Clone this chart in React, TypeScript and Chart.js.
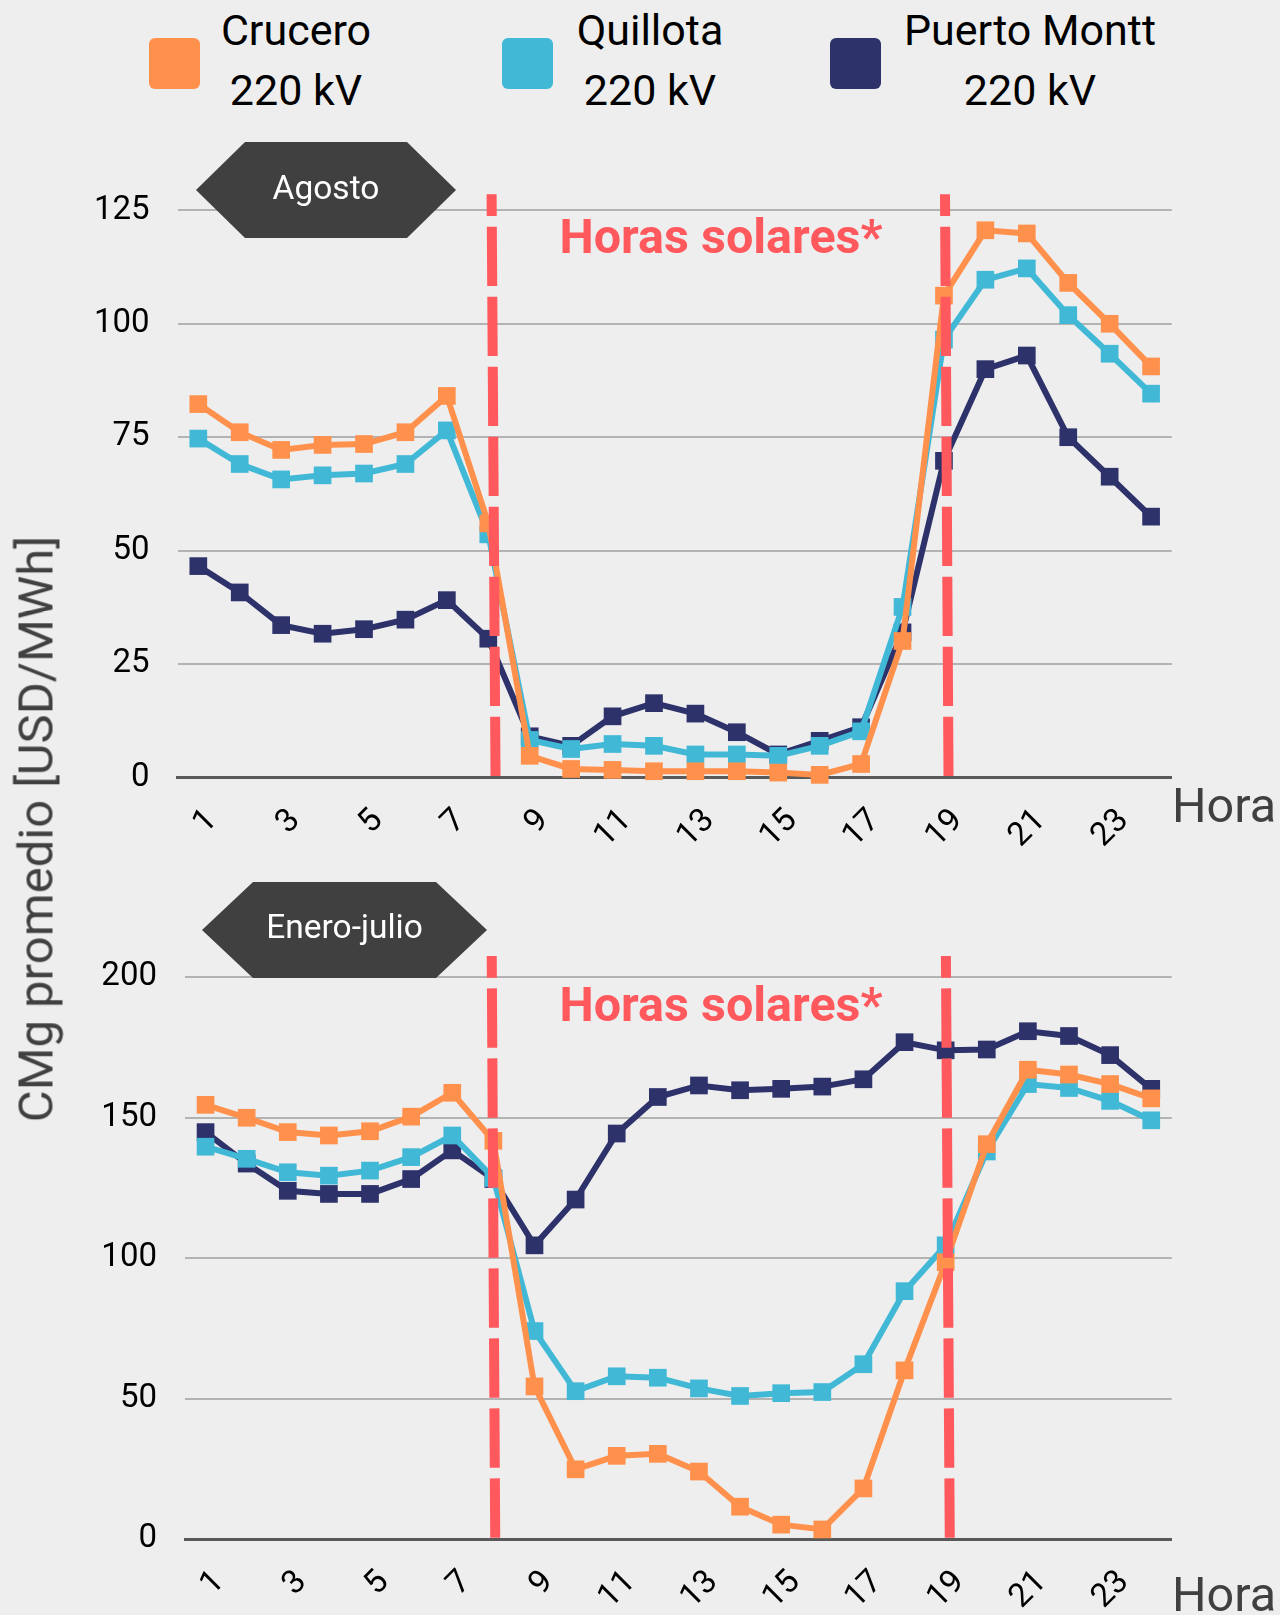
import React, { useEffect, useRef } from "react";
import { Chart, registerables } from "chart.js";

Chart.register(...registerables);
Chart.defaults.font.family = "Roboto";

// ---------- DATA ----------
const hours = ["1", "2", "3", "4", "5", "6", "7", "8", "9", "10", "11", "12", "13", "14", "15", "16", "17", "18", "19", "20", "21", "22", "23", "24"];

// Agosto
const agostoCrucero = [82.3, 76.1, 72.2, 73.3, 73.5, 76.1, 84.1, 56.0, 4.8, 1.9, 1.7, 1.4, 1.4, 1.4, 1.1, 0.6, 3.0, 30.1, 106.2, 120.6, 119.9, 109.0, 100.0, 90.6];
const agostoQuillota = [74.7, 69.1, 65.7, 66.6, 67.0, 69.1, 76.5, 53.6, 8.3, 6.3, 7.4, 7.0, 5.1, 5.1, 4.8, 7.0, 10.2, 37.6, 96.5, 109.7, 112.2, 101.9, 93.4, 84.6];
const agostoPuertoMontt = [46.6, 40.8, 33.6, 31.7, 32.7, 34.8, 39.1, 30.6, 9.1, 7.0, 13.5, 16.4, 14.1, 10.0, 5.1, 8.1, 11.1, 32.0, 69.8, 90.0, 93.0, 75.0, 66.3, 57.5];

// Enero-julio
const eneJulCrucero = [154.5, 149.9, 144.8, 143.6, 145.1, 150.3, 158.8, 141.7, 54.3, 24.8, 29.6, 30.3, 24.0, 11.5, 5.1, 3.4, 18.0, 60.0, 98.5, 140.5, 167.0, 165.3, 161.9, 156.8];
const eneJulQuillota = [139.6, 135.3, 130.5, 129.3, 131.1, 135.9, 143.6, 128.5, 74.0, 52.6, 57.9, 57.4, 53.6, 50.9, 51.9, 52.3, 62.2, 88.2, 104.5, 137.9, 161.9, 160.5, 155.9, 149.0];
const eneJulPuertoMontt = [144.8, 133.6, 123.9, 122.8, 122.8, 128.1, 138.3, 128.1, 104.5, 120.8, 144.3, 157.3, 161.4, 159.7, 160.2, 161.0, 163.6, 176.8, 173.9, 174.2, 180.7, 179.0, 172.2, 160.2];

const seriesNames = ["Crucero", "Quillota", "Puerto Montt"];
const seriesSub = ["220 kV", "220 kV", "220 kV"];
const seriesColors = ["#FF914D", "#41B9D6", "#2E326B"];

const yTitle = "CMg promedio [USD/MWh]";
const xTitle = "Hora";
const solarLabel = "Horas solares*";

// ---------- PLUGIN ----------
const solarPlugin = {
  id: "solarLines",
  afterDatasetsDraw(chart: any, _args: any, opts: any) {
    const { ctx, chartArea } = chart;
    const x = chart.scales.x;
    ctx.save();
    ctx.strokeStyle = "#FF585D";
    ctx.lineWidth = 10;
    ctx.lineCap = "butt";
    ctx.setLineDash([59.3, 10.7]);
    ctx.lineDashOffset = 37.6;
    (opts.lines || []).forEach((l: any) => {
      ctx.beginPath();
      ctx.moveTo(x.getPixelForValue(l.top), chartArea.top - opts.overshoot);
      ctx.lineTo(x.getPixelForValue(l.bottom), chartArea.bottom);
      ctx.stroke();
    });
    ctx.restore();
  },
};

function makeDataset(label: string, data: number[], color: string) {
  return {
    label,
    data,
    borderColor: color,
    backgroundColor: color,
    borderWidth: 6,
    pointStyle: "rect",
    pointRadius: 12.5,
    pointBorderWidth: 0,
    pointBackgroundColor: color,
    tension: 0,
    clip: false,
  };
}

type ChartProps = {
  top: number;
  height: number;
  crucero: number[];
  quillota: number[];
  puertoMontt: number[];
  yMax: number;
  yStep: number;
  yAxisWidth: number;
  padTop: number;
  xAxisHeight: number;
  lines: { top: number; bottom: number }[];
  overshoot: number;
};

function CmgChart(p: ChartProps) {
  const ref = useRef<HTMLCanvasElement>(null);
  useEffect(() => {
    const chart = new Chart(ref.current as HTMLCanvasElement, {
      type: "line",
      data: {
        labels: hours,
        datasets: [
          makeDataset(seriesNames[0], p.crucero, seriesColors[0]),
          makeDataset(seriesNames[1], p.quillota, seriesColors[1]),
          makeDataset(seriesNames[2], p.puertoMontt, seriesColors[2]),
        ] as any,
      },
      options: {
        responsive: false,
        animation: false,
        devicePixelRatio: 1,
        layout: { padding: { top: p.padTop, right: 108.2, bottom: 0, left: 0 } },
        plugins: {
          legend: { display: false },
          tooltip: { enabled: false },
          solarLines: { lines: p.lines, overshoot: p.overshoot },
        } as any,
        scales: {
          x: {
            offset: true,
            grid: { display: false, drawTicks: false },
            border: { display: true, color: "#595959", width: 3 },
            ticks: {
              autoSkip: false,
              maxRotation: 45,
              minRotation: 45,
              padding: 24,
              labelOffset: 14,
              color: "#000",
              font: { size: 33, family: "Roboto" },
              callback: (_v: any, i: number) => (i % 2 === 0 ? hours[i] : ""),
            },
            afterFit: (s: any) => {
              s.height = p.xAxisHeight;
            },
          },
          y: {
            min: 0,
            max: p.yMax,
            grid: { color: "#B3B3B3", lineWidth: 2, drawTicks: false },
            border: { display: false },
            ticks: {
              stepSize: p.yStep,
              padding: 28,
              color: "#000",
              font: { size: 33, family: "Roboto" },
            },
            afterFit: (s: any) => {
              s.width = p.yAxisWidth;
            },
          },
        },
      } as any,
      plugins: [solarPlugin],
    });
    return () => chart.destroy();
  }, []);
  return (
    <canvas
      ref={ref}
      width={1280}
      height={p.height}
      style={{ position: "absolute", left: 0, top: p.top, width: 1280, height: p.height }}
    />
  );
}

const hexClip = (w: number, h: number, inset: number) =>
  `polygon(0px ${h / 2}px, ${inset}px 0px, ${w - inset}px 0px, ${w}px ${h / 2}px, ${w - inset}px ${h}px, ${inset}px ${h}px)`;

function Hexagon({ left, top, w, h, inset, text, textTop }: any) {
  return (
    <>
      <div
        style={{
          position: "absolute",
          left,
          top,
          width: w,
          height: h,
          background: "#404040",
          clipPath: hexClip(w, h, inset),
        }}
      />
      <div
        style={{
          position: "absolute",
          left,
          top: textTop,
          width: w,
          textAlign: "center",
          color: "#fff",
          fontSize: 33.5,
          lineHeight: "33px",
          fontFamily: "Roboto",
          whiteSpace: "nowrap",
        }}
      >
        {text}
      </div>
    </>
  );
}

export default function App() {
  const legendCenters = [296, 650, 1030];
  const markerLefts = [149, 502, 830];
  return (
    <div
      style={{
        position: "absolute",
        left: 0,
        top: 0,
        width: 1280,
        height: 1615,
        background: "#EEEEEE",
        overflow: "hidden",
        fontFamily: "Roboto",
      }}
    >
      <CmgChart
        top={140}
        height={720}
        crucero={agostoCrucero}
        quillota={agostoQuillota}
        puertoMontt={agostoPuertoMontt}
        yMax={125}
        yStep={25}
        yAxisWidth={177.6}
        padTop={70.3}
        xAxisHeight={82.4}
        lines={[
          { top: 7.08, bottom: 7.175 },
          { top: 18.025, bottom: 18.11 },
        ]}
        overshoot={16}
      />
      <CmgChart
        top={870}
        height={745}
        crucero={eneJulCrucero}
        quillota={eneJulQuillota}
        puertoMontt={eneJulPuertoMontt}
        yMax={200}
        yStep={50}
        yAxisWidth={185}
        padTop={107}
        xAxisHeight={76}
        lines={[
          { top: 6.96, bottom: 7.045 },
          { top: 18.006, bottom: 18.1 },
        ]}
        overshoot={21}
      />

      {/* Legend */}
      {seriesNames.map((n, i) => (
        <React.Fragment key={n}>
          <div
            style={{
              position: "absolute",
              left: markerLefts[i],
              top: 38,
              width: 51,
              height: 51,
              borderRadius: 6,
              background: seriesColors[i],
            }}
          />
          <div
            style={{
              position: "absolute",
              left: legendCenters[i] - 200,
              top: 0,
              width: 400,
              textAlign: "center",
              fontSize: 43,
              lineHeight: "60px",
              color: "#000",
              whiteSpace: "nowrap",
            }}
          >
            <div>{n}</div>
            <div>{seriesSub[i]}</div>
          </div>
        </React.Fragment>
      ))}

      {/* Y title */}
      <div
        style={{
          position: "absolute",
          left: 36,
          top: 829,
          transform: "translate(-50%, -50%) rotate(-90deg)",
          fontSize: 49,
          lineHeight: "49px",
          color: "#404040",
          whiteSpace: "nowrap",
        }}
      >
        {yTitle}
      </div>

      {/* Period labels */}
      <Hexagon left={196} top={142} w={260} h={96} inset={49} text="Agosto" textTop={171} />
      <Hexagon left={202} top={882} w={285} h={96} inset={51} text="Enero-julio" textTop={910} />

      {/* Solar hours labels */}
      {[211.5, 980].map((t, i) => (
        <div
          key={i}
          style={{
            position: "absolute",
            left: 721 - 250,
            top: t,
            width: 500,
            textAlign: "center",
            fontSize: 48.5,
            lineHeight: "50px",
            fontWeight: 700,
            color: "#FF585D",
            whiteSpace: "nowrap",
          }}
        >
          {solarLabel}
        </div>
      ))}

      {/* X titles */}
      {[782.3, 1570.7].map((t, i) => (
        <div
          key={"h" + i}
          style={{
            position: "absolute",
            left: 1172,
            top: t,
            fontSize: 48.5,
            lineHeight: "48px",
            color: "#404040",
            whiteSpace: "nowrap",
          }}
        >
          {xTitle}
        </div>
      ))}
    </div>
  );
}
